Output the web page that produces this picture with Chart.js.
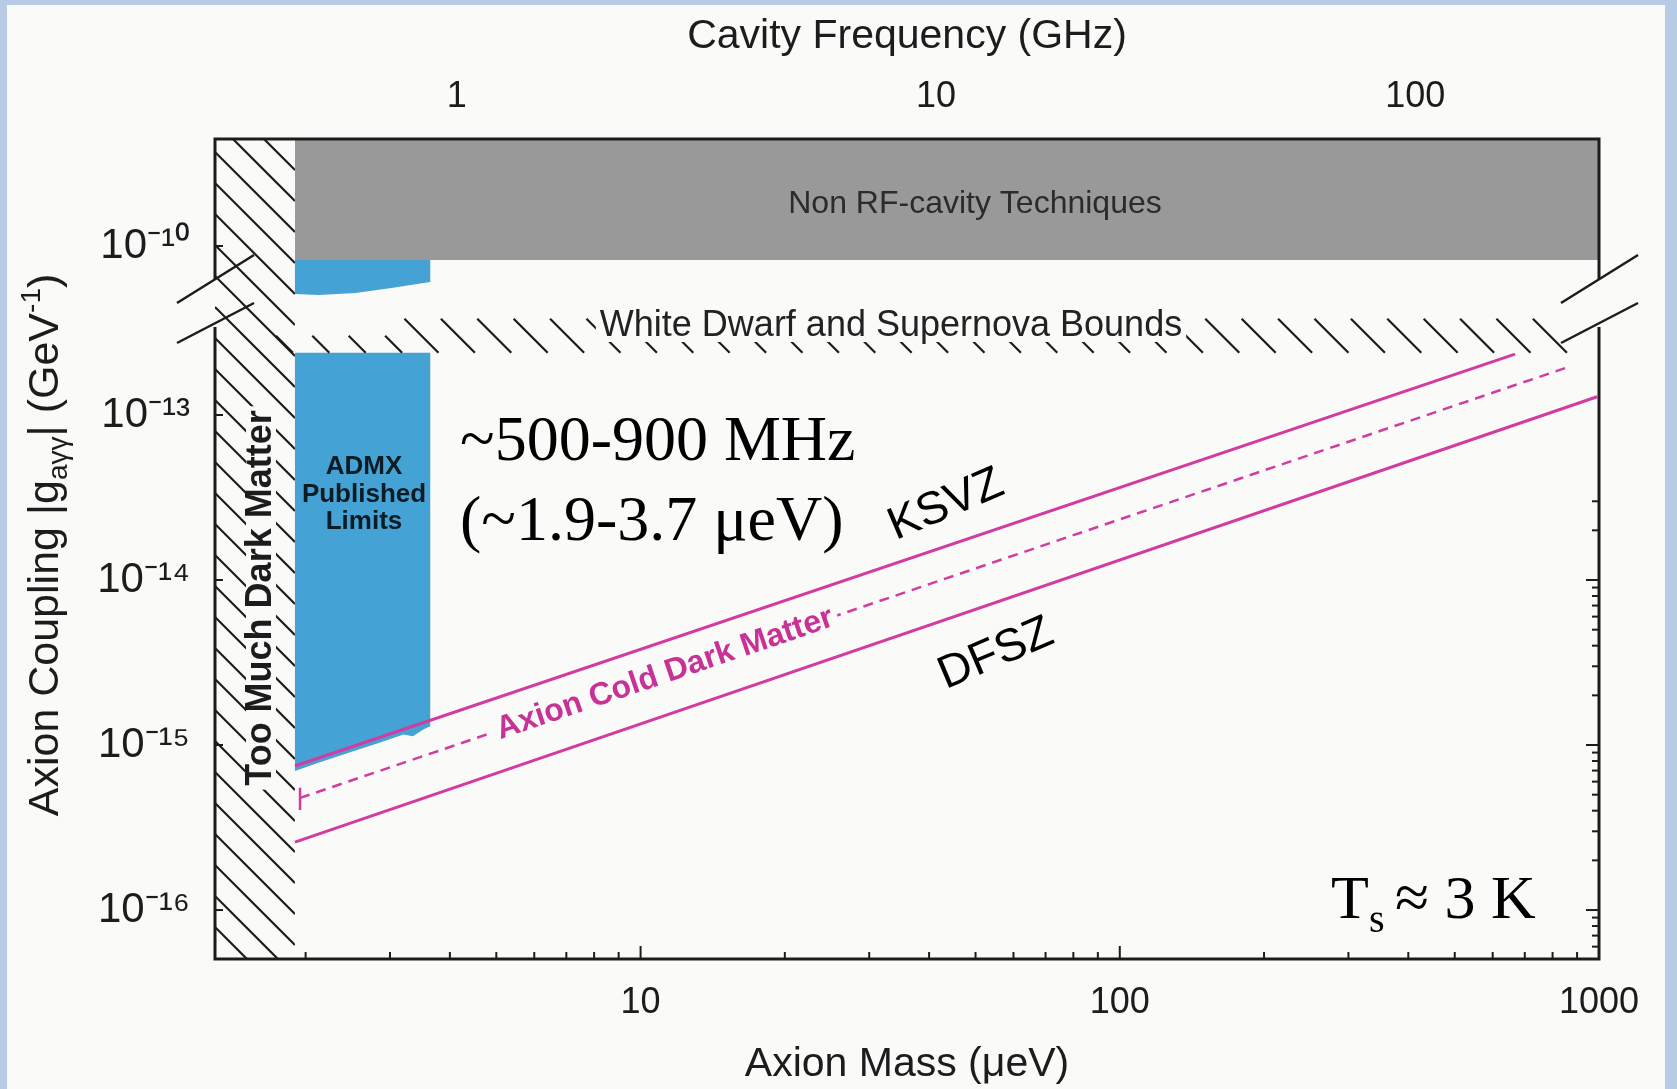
<!DOCTYPE html>
<html>
<head>
<meta charset="utf-8">
<title>Axion coupling vs axion mass</title>
<script src="https://cdn.jsdelivr.net/npm/chart.js"></script>
<style>
  html, body { margin: 0; padding: 0; background: #fafaf8; }
  #wrap { width: 1677px; height: 1089px; }
</style>
</head>
<body>
<div id="wrap"><canvas id="grafico" width="1677" height="1089"></canvas></div>
<script>
const SANS = '"Liberation Sans", Arial, Helvetica, sans-serif';
const SERIF = '"Liberation Serif", "Times New Roman", serif';
const INK = '#1c1c1c';
const PINK = '#d23ca0';
const BLUE = '#45a2d4';
const GRAY = '#999999';
const BG = '#fafaf8';

// axis ranges
const massRange = [1.294, 1000];          // axion mass (μeV)
const freqRange = [0.3129, 241.8];        // cavity frequency (GHz)
const upperRange = [4.39e-11, 4.45e-10];  // upper coupling panel (GeV^-1)
const lowerRange = [5.05e-17, 4.64e-13];  // lower coupling panel (GeV^-1)

// tick labels
const massTicks = [10, 100, 1000];
const massTickLabels = ['10', '100', '1000'];
const freqTicks = [1, 10, 100];
const freqTickLabels = ['1', '10', '100'];
const upperTicks = [1e-10];
const upperTickLabels = ['10⁻¹⁰'];
const lowerTicks = [1e-13, 1e-14, 1e-15, 1e-16];
const lowerTickLabels = ['10⁻¹³', '10⁻¹⁴', '10⁻¹⁵', '10⁻¹⁶'];
const minorSteps = [2, 3, 4, 5, 6, 7, 8, 9];

// model lines
const ksvzMass = [1.90, 668];
const ksvzG = [7.46e-16, 2.34e-13];
const dfszMass = [1.90, 991];
const dfszG = [2.58e-16, 1.29e-13];
const cdmMass = [1.947, 857];
const cdmG = [4.78e-16, 1.94e-13];
const cdmCapMass = [1.947, 1.947];
const cdmCapG = [5.50e-16, 4.04e-16];

// ADMX published limits (outline), lower and upper panel
const admxLowMass = [1.90, 3.64, 3.64, 3.52, 3.35, 3.20, 2.84, 2.45, 2.12, 1.90];
const admxLowG = [2.38e-13, 2.38e-13, 1.30e-15, 1.24e-15, 1.13e-15, 1.16e-15, 1.03e-15, 8.95e-16, 7.78e-16, 6.95e-16];
const admxUpMass = [1.90, 3.64, 3.64, 3.02, 2.54, 2.13, 1.90];
const admxUpG = [8.22e-11, 8.22e-11, 6.05e-11, 5.56e-11, 5.19e-11, 5.05e-11, 5.12e-11];

// non RF-cavity techniques (fills up to the top)
const nonRfMass = [1.90, 1000];
const nonRfG = [8.22e-11, 8.22e-11];

// white dwarf / supernova bound, too much dark matter edge
const wdMass = [1.90, 857];
const wdG = [2.38e-13, 2.38e-13];
const tmdmEdge = 1.90;

function pts(xs, ys){
  return xs.map((x, i) => ({x: x, y: ys[i]}));
}

function line(ctx, x1, y1, x2, y2){
  ctx.beginPath();
  ctx.moveTo(x1, y1);
  ctx.lineTo(x2, y2);
  ctx.stroke();
}

function text(ctx, str, x, y, opt){
  ctx.save();
  ctx.translate(x, y);
  if(opt.angle) ctx.rotate(opt.angle * Math.PI / 180);
  ctx.font = opt.font;
  ctx.textAlign = opt.align || 'center';
  ctx.textBaseline = opt.baseline || 'middle';
  if(opt.mask){
    const w = ctx.measureText(str).width;
    const x0 = ctx.textAlign === 'center' ? -w / 2 : 0;
    ctx.fillStyle = BG;
    ctx.fillRect(x0 - opt.mask[0], -opt.mask[1], w + 2 * opt.mask[0], 2 * opt.mask[1]);
  }
  ctx.fillStyle = opt.color || INK;
  ctx.fillText(str, 0, 0);
  ctx.restore();
}

// y title with subscript / superscript
function yTitle(ctx, cx, cy){
  const big = '43px ' + SANS, small = '28px ' + SANS;
  const parts = [
    {t: 'Axion Coupling |g', f: big, dy: 15},
    {t: 'aγγ', f: small, dy: 24},
    {t: '| (GeV', f: big, dy: 15},
    {t: '-1', f: small, dy: -3},
    {t: ')', f: big, dy: 15}
  ];
  ctx.save();
  ctx.translate(cx, cy);
  ctx.rotate(-Math.PI / 2);
  let total = 0;
  parts.forEach(p => { ctx.font = p.f; p.w = ctx.measureText(p.t).width; total += p.w; });
  let x = -total / 2;
  ctx.textBaseline = 'alphabetic';
  ctx.textAlign = 'left';
  ctx.fillStyle = INK;
  parts.forEach(p => { ctx.font = p.f; ctx.fillText(p.t, x, p.dy); x += p.w; });
  ctx.restore();
}

const decor = {
  id: 'decor',
  beforeDraw(chart){
    const ctx = chart.ctx;
    ctx.save();
    ctx.fillStyle = '#b7cbe6';
    ctx.fillRect(0, 0, chart.width, chart.height);
    ctx.fillStyle = BG;
    ctx.fillRect(7, 5, 1658, chart.height - 5);
    ctx.restore();
  },
  afterDatasetsDraw(chart){
    const ctx = chart.ctx, a = chart.chartArea, s = chart.scales;
    const L = a.left, R = a.right, T = a.top, B = a.bottom;
    const brk = s.yU.bottom;
    ctx.save();
    ctx.strokeStyle = INK;
    ctx.lineCap = 'butt';

    // too much dark matter hatching
    const hx = s.x.getPixelForValue(tmdmEdge);
    ctx.save();
    ctx.beginPath();
    ctx.rect(L, T, hx - L, B - T);
    ctx.clip();
    ctx.lineWidth = 2.2;
    for(let c = T - (hx - L); c < B; c += 31){
      line(ctx, L, c, hx, c + (hx - L));
    }
    ctx.restore();

    // white dwarf / supernova hatching
    const wdY = s.yL.getPixelForValue(wdG[0]);
    const wx0 = s.x.getPixelForValue(wdMass[0]);
    const wx1 = s.x.getPixelForValue(wdMass[1]);
    const admxRight = s.x.getPixelForValue(admxLowMass[1]);
    ctx.lineWidth = 2.2;
    for(let xb = wx1; xb >= wx0 - 3; xb -= 36.4){
      const len = xb < admxRight ? 17 : 34;
      line(ctx, xb - len, wdY - len, xb, wdY);
    }

    // frame with the axis break
    ctx.lineWidth = 3;
    ctx.beginPath();
    ctx.moveTo(L, brk - 26); ctx.lineTo(L, T); ctx.lineTo(R, T); ctx.lineTo(R, brk - 26);
    ctx.moveTo(L, brk + 22); ctx.lineTo(L, B); ctx.lineTo(R, B); ctx.lineTo(R, brk + 22);
    ctx.stroke();
    ctx.lineWidth = 2.5;
    [L, R].forEach(X => {
      line(ctx, X - 38, brk - 2, X + 39, brk - 50);
      line(ctx, X - 38, brk + 38, X + 39, brk - 2);
    });

    // inward ticks
    ctx.lineWidth = 2;
    [1, 10, 100].forEach(base => {
      [1].concat(minorSteps).forEach(m => {
        const v = m * base;
        if(v <= massRange[0] * 1.01 || v >= massRange[1]) return;
        const px = s.x.getPixelForValue(v);
        line(ctx, px, B, px, B - (m === 1 ? 13 : 7));
      });
    });
    [1e-17, 1e-16, 1e-15, 1e-14].forEach(base => {
      [1].concat(minorSteps).forEach(m => {
        const v = m * base;
        if(v < lowerRange[0] || v > 3.01e-14) return;
        const py = s.yL.getPixelForValue(v);
        line(ctx, R, py, R - (m === 1 ? 13 : 7), py);
      });
    });
    lowerTicks.forEach(v => { const py = s.yL.getPixelForValue(v); line(ctx, L, py, L + 8, py); });
    upperTicks.forEach(v => { const py = s.yU.getPixelForValue(v); line(ctx, L, py, L + 8, py); });

    // labels
    text(ctx, 'Non RF-cavity Techniques', 975, 204, {font: '32px ' + SANS, color: '#2b2b2b'});
    text(ctx, 'White Dwarf and Supernova Bounds', 891, 326, {font: '36px ' + SANS, color: '#222', mask: [4, 16]});
    text(ctx, 'Too Much Dark Matter', 261, 598, {font: 'bold 36px ' + SANS, angle: -90, mask: [4, 15]});
    text(ctx, 'ADMX', 364, 467, {font: 'bold 26px ' + SANS, color: '#0d1b24'});
    text(ctx, 'Published', 364, 495, {font: 'bold 26px ' + SANS, color: '#0d1b24'});
    text(ctx, 'Limits', 364, 522, {font: 'bold 26px ' + SANS, color: '#0d1b24'});
    text(ctx, '~500-900 MHz', 460, 460, {font: '64px ' + SERIF, align: 'left', baseline: 'alphabetic', color: '#000'});
    text(ctx, '(~1.9-3.7 μeV)', 460, 540, {font: '64px ' + SERIF, align: 'left', baseline: 'alphabetic', color: '#000'});
    text(ctx, 'KSVZ', 946, 505, {font: '46px ' + SANS, angle: -23, color: '#000'});
    text(ctx, 'DFSZ', 996, 654, {font: '46px ' + SANS, angle: -23, color: '#000'});

    // dark matter label sits on the dashed line
    const cd = chart.getDatasetMeta(2).data;
    const p0 = cd[0], p1 = cd[1];
    const tx = 665;
    const ty = p0.y + (tx - p0.x) / (p1.x - p0.x) * (p1.y - p0.y);
    const ang = Math.atan2(p1.y - p0.y, p1.x - p0.x) * 180 / Math.PI;
    text(ctx, 'Axion Cold Dark Matter', tx, ty, {font: 'bold 32px ' + SANS, angle: ang, color: '#c83296', mask: [5, 13]});

    // T_s ≈ 3 K
    text(ctx, 'T', 1331, 918, {font: '62px ' + SERIF, align: 'left', baseline: 'alphabetic', color: '#000'});
    text(ctx, 's', 1369, 932, {font: '40px ' + SERIF, align: 'left', baseline: 'alphabetic', color: '#000'});
    text(ctx, '≈ 3 K', 1395, 918, {font: '62px ' + SERIF, align: 'left', baseline: 'alphabetic', color: '#000'});

    yTitle(ctx, 43, 545);
    ctx.restore();
  }
};

function logAxis(opts){
  return Object.assign({
    type: 'logarithmic',
    bounds: 'data',
    grid: {display: false, drawTicks: false},
    border: {display: false}
  }, opts);
}

Chart.defaults.font.family = SANS;

const ctx = document.getElementById('grafico').getContext('2d');
const grafico = new Chart(ctx, {
  type: 'line',
  data: {
    datasets: [
      {data: pts(ksvzMass, ksvzG), yAxisID: 'yL', borderColor: PINK, borderWidth: 3, pointRadius: 0, fill: false},
      {data: pts(dfszMass, dfszG), yAxisID: 'yL', borderColor: PINK, borderWidth: 3, pointRadius: 0, fill: false},
      {data: pts(cdmMass, cdmG), yAxisID: 'yL', borderColor: PINK, borderWidth: 2.5, borderDash: [10, 7], pointRadius: 0, fill: false},
      {data: pts(cdmCapMass, cdmCapG), yAxisID: 'yL', borderColor: PINK, borderWidth: 2.5, pointRadius: 0, fill: false},
      {data: pts(admxLowMass, admxLowG), yAxisID: 'yL', borderColor: 'transparent', backgroundColor: BLUE, pointRadius: 0, fill: 'shape'},
      {data: pts(admxUpMass, admxUpG), yAxisID: 'yU', borderColor: 'transparent', backgroundColor: BLUE, pointRadius: 0, fill: 'shape'},
      {data: pts(nonRfMass, nonRfG), yAxisID: 'yU', borderColor: 'transparent', backgroundColor: GRAY, pointRadius: 0, fill: 'end'},
      {data: pts(wdMass, wdG), yAxisID: 'yL', borderColor: 'transparent', pointRadius: 0, fill: false}
    ]
  },
  options: {
    responsive: false,
    animation: false,
    events: [],
    layout: {padding: {right: 78}},
    plugins: {legend: {display: false}, tooltip: {enabled: false}},
    scales: {
      x: logAxis({
        position: 'bottom',
        min: massRange[0], max: massRange[1],
        afterBuildTicks: sc => { sc.ticks = massTicks.map(v => ({value: v})); },
        afterFit: sc => { sc.height = 130; },
        ticks: {font: {size: 36}, color: INK, padding: 22, autoSkip: false, maxRotation: 0,
          callback: v => massTickLabels[massTicks.indexOf(v)]},
        title: {display: true, text: 'Axion Mass (μeV)', font: {size: 41}, color: INK, padding: {top: 0, bottom: 0}}
      }),
      xTop: logAxis({
        position: 'top',
        min: freqRange[0], max: freqRange[1],
        afterBuildTicks: sc => { sc.ticks = freqTicks.map(v => ({value: v})); },
        afterFit: sc => { sc.height = 139; },
        ticks: {font: {size: 36}, color: INK, padding: 20, autoSkip: false, maxRotation: 0,
          callback: v => freqTickLabels[freqTicks.indexOf(v)]},
        title: {display: true, text: 'Cavity Frequency (GHz)', font: {size: 41}, color: INK, padding: {top: 12, bottom: 0}}
      }),
      yL: logAxis({
        position: 'left',
        stack: 'g', stackWeight: 654,
        min: lowerRange[0], max: lowerRange[1],
        afterBuildTicks: sc => { sc.ticks = lowerTicks.map(v => ({value: v})); },
        afterFit: sc => { sc.width = 215; },
        ticks: {font: {size: 42}, color: INK, padding: 25, autoSkip: false,
          callback: v => lowerTickLabels[lowerTicks.indexOf(v)]}
      }),
      yU: logAxis({
        position: 'left',
        stack: 'g', stackWeight: 166,
        min: upperRange[0], max: upperRange[1],
        afterBuildTicks: sc => { sc.ticks = upperTicks.map(v => ({value: v})); },
        afterFit: sc => { sc.width = 215; },
        ticks: {font: {size: 42}, color: INK, padding: 25, autoSkip: false,
          callback: v => upperTickLabels[upperTicks.indexOf(v)]}
      })
    }
  },
  plugins: [decor]
});
</script>
</body>
</html>
